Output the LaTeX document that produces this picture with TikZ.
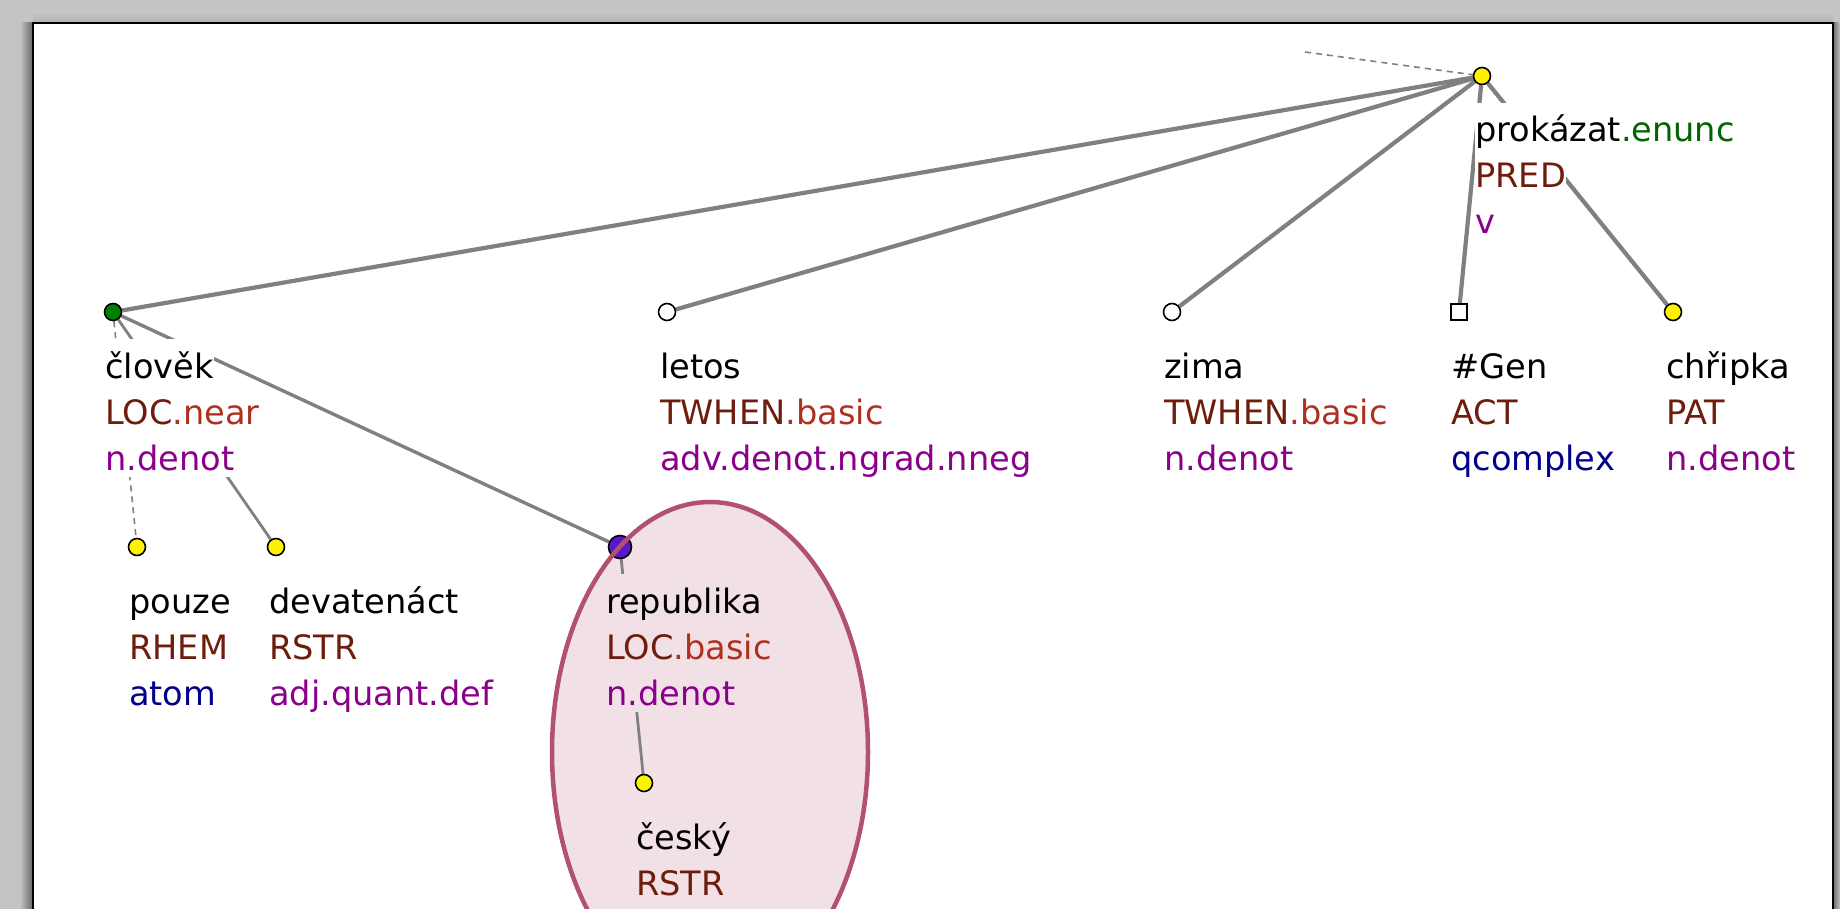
\documentclass[tikz,border=0pt]{standalone}
\usepackage{fontspec}
\setmainfont{DejaVu Sans}
\definecolor{bgray}{RGB}{196,196,196}
\definecolor{edgegray}{RGB}{128,128,128}
\definecolor{functor}{RGB}{110,28,12}
\definecolor{subf}{RGB}{176,48,32}
\definecolor{sempos}{RGB}{139,0,139}
\definecolor{atomblue}{RGB}{0,0,139}
\definecolor{enunc}{RGB}{0,100,0}
\definecolor{ellfill}{RGB}{241,225,231}
\definecolor{elldraw}{RGB}{178,80,112}
\definecolor{ngreen}{RGB}{0,128,0}
\definecolor{npurple}{RGB}{88,24,200}
\pgfdeclarelayer{bglayer}
\pgfdeclarelayer{edgelayer}
\pgfdeclarelayer{toplayer}
\pgfsetlayers{bglayer,edgelayer,main,toplayer}
\begin{document}
\begin{tikzpicture}[x=1pt,y=-1pt,
  tnode/.style={circle,draw=black,line width=1.6pt,minimum size=17pt,inner sep=0pt},
  ynode/.style={tnode,fill=yellow},
  wnode/.style={tnode,fill=white},
  sqnode/.style={rectangle,draw=black,line width=1.6pt,minimum size=16pt,inner sep=0pt,fill=white},
  lline/.style={anchor=base west,inner sep=0pt,fill=white,text height=39pt,text depth=7pt,
    font=\fontsize{33.6}{46}\selectfont},
  pline/.style={lline,fill=ellfill},
  edge/.style={draw=edgegray,line width=4.2pt},
  midedge/.style={draw=edgegray,line width=3.4pt},
  thinedge/.style={draw=edgegray,line width=2.8pt},
  dashedge/.style={draw=edgegray,line width=1.6pt,dash pattern=on 6pt off 5pt},
]
\useasboundingbox (0,0) rectangle (1840,909);
\begin{pgfonlayer}{bglayer}
  \fill[bgray] (0,0) rectangle (1840,909);
  \shade[top color=bgray, bottom color=black!30] (33,12) rectangle (1833,23);
  \shade[left color=bgray, right color=black!60] (20,23) rectangle (33,909);
  \shade[left color=black!60, right color=bgray] (1833,23) rectangle (1840,909);
  \filldraw[fill=white,draw=black,line width=2.5pt] (33,23) rectangle (1833,960);
  \fill[ellfill] (710,752) ellipse [x radius=158, y radius=250];
\end{pgfonlayer}

% tree nodes
\node[ynode] (root) at (1482,76) {};
\coordinate (dstart) at (1305,52);
\node[tnode,fill=ngreen] (clovek) at (113,312) {};
\node[wnode] (letos) at (667,312) {};
\node[wnode] (zima) at (1172,312) {};
\node[sqnode] (gen) at (1459,312) {};
\node[ynode] (chripka) at (1673,312) {};
\node[ynode] (pouze) at (137,547) {};
\node[ynode] (devatenact) at (276,547) {};
\node[tnode,fill=npurple,minimum size=23pt] (republika) at (620,547) {};
\node[ynode] (cesky) at (644,783) {};

% labels
\node[lline] (rootA) at (1475,142) {prokázat\textcolor{enunc}{.enunc}};
\node[lline] (rootB) at (1475,188) {\textcolor{functor}{PRED}};
\node[lline] (rootC) at (1475,234) {\textcolor{sempos}{v}};

\node[lline] (clovekA) at (105,378) {člověk};
\node[lline] (clovekB) at (105,424) {\textcolor{functor}{LOC}\textcolor{subf}{.near}\hspace{14pt}};
\node[lline] (clovekC) at (105,470) {\textcolor{sempos}{n.denot}};

\node[lline] (letosA) at (660,378) {letos};
\node[lline] (letosB) at (660,424) {\textcolor{functor}{TWHEN}\textcolor{subf}{.basic}};
\node[lline] (letosC) at (660,470) {\textcolor{sempos}{adv.denot.ngrad.nneg}};

\node[lline] (zimaA) at (1164,378) {zima};
\node[lline] (zimaB) at (1164,424) {\textcolor{functor}{TWHEN}\textcolor{subf}{.basic}};
\node[lline] (zimaC) at (1164,470) {\textcolor{sempos}{n.denot}};

\node[lline] (genA) at (1451,378) {\#Gen};
\node[lline] (genB) at (1451,424) {\textcolor{functor}{ACT}};
\node[lline] (genC) at (1451,470) {\textcolor{atomblue}{qcomplex}};

\node[lline] (chripkaA) at (1666,378) {chřipka};
\node[lline] (chripkaB) at (1666,424) {\textcolor{functor}{PAT}};
\node[lline] (chripkaC) at (1666,470) {\textcolor{sempos}{n.denot}};

\node[lline] (pouzeA) at (129,613) {pouze};
\node[lline] (pouzeB) at (129,659) {\textcolor{functor}{RHEM}};
\node[lline] (pouzeC) at (129,705) {\textcolor{atomblue}{atom}};

\node[lline] (devA) at (269,613) {devatenáct};
\node[lline] (devB) at (269,659) {\textcolor{functor}{RSTR}};
\node[lline] (devC) at (269,705) {\textcolor{sempos}{adj.quant.def}};

\node[pline] (repA) at (606,613) {republika};
\node[pline] (repB) at (606,659) {\textcolor{functor}{LOC}\textcolor{subf}{.basic}};
\node[pline] (repC) at (606,705) {\textcolor{sempos}{n.denot}};

\node[pline] (ceskyA) at (636,849) {český};
\node[pline] (ceskyB) at (636,895) {\textcolor{functor}{RSTR}};

% edges
\begin{pgfonlayer}{edgelayer}
  \draw[dashedge] (dstart) -- (root);
  \draw[edge] (root) -- (clovek);
  \draw[edge] (root) -- (letos);
  \draw[edge] (root) -- (zima);
  \draw[edge] (root) -- (gen);
  \draw[edge] (root) -- (chripka);
  \draw[dashedge] (clovek) -- (pouze);
  \draw[thinedge] (clovek) -- (devatenact);
  \draw[midedge] (clovek) -- (republika);
  \draw[thinedge] (republika) -- (cesky);
\end{pgfonlayer}

\begin{pgfonlayer}{toplayer}
  \draw[elldraw,line width=4.5pt] (710,752) ellipse [x radius=158, y radius=250];
\end{pgfonlayer}
\end{tikzpicture}
\end{document}
